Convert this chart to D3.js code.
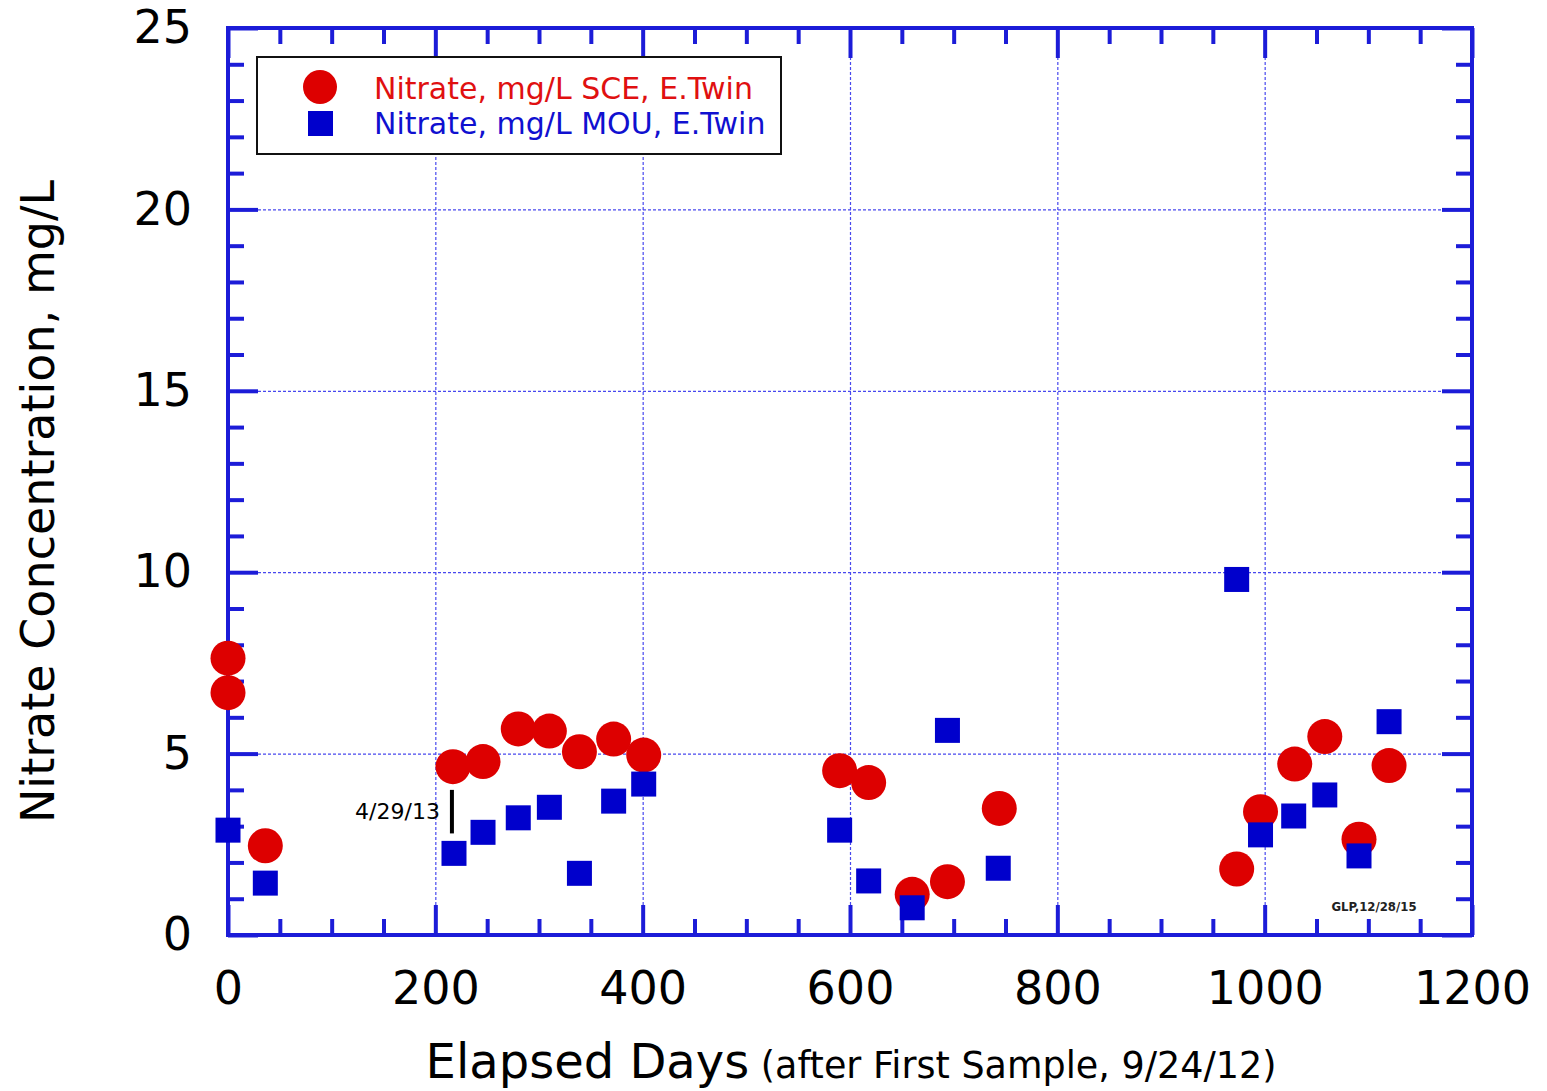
<!DOCTYPE html>
<html>
<head>
<meta charset="utf-8">
<script src="https://cdn.jsdelivr.net/npm/d3@7"></script>
<style>
  body { margin: 0; background: #fff; }
  svg text { font-family: "DejaVu Sans", sans-serif; }
</style>
</head>
<body>
<svg id="chart" width="1547" height="1091"></svg>
<script>
// données
var sceDays = [0, 0, 36, 217, 246, 280, 310, 339, 372, 401, 590, 618, 660, 694, 744, 973, 996, 1029, 1058, 1091, 1120];
var sceVals = [7.63, 6.68, 2.46, 4.64, 4.78, 5.68, 5.62, 5.05, 5.40, 4.96, 4.53, 4.20, 1.12, 1.47, 3.49, 1.82, 3.40, 4.71, 5.47, 2.64, 4.67];
var mouDays = [0, 36, 218, 246, 280, 310, 339, 372, 401, 590, 618, 660, 694, 743, 973, 996, 1028, 1058, 1091, 1120];
var mouVals = [2.89, 1.43, 2.25, 2.83, 3.23, 3.52, 1.70, 3.69, 4.16, 2.89, 1.49, 0.75, 5.64, 1.84, 9.80, 2.76, 3.28, 3.86, 2.18, 5.88];
var xTicks = [0, 200, 400, 600, 800, 1000, 1200];
var yTicks = [0, 5, 10, 15, 20, 25];
var seriesNames = ["Nitrate, mg/L SCE, E.Twin", "Nitrate, mg/L MOU, E.Twin"];
var annotDay = 216, annotRange = [2.8, 4.0], annotLabel = "4/29/13";
var stamp = "GLP,12/28/15";

var red = "#dd0000", blue = "#0000cc", frame = "#1c1cd8";

var svg = d3.select("#chart");
var margin = {top: 28, right: 75, bottom: 156, left: 228};
var W = 1547, H = 1091;
var width = W - margin.left - margin.right, height = H - margin.top - margin.bottom;

var x = d3.scaleLinear().domain([0, 1200]).range([margin.left, margin.left + width]);
var y = d3.scaleLinear().domain([0, 25]).range([margin.top + height, margin.top]);

var xMinor = d3.range(0, 1201, 50).filter(function(d){ return d % 200 != 0; });
var yMinor = d3.range(0, 26, 1).filter(function(d){ return d % 5 != 0; });

// grille en pointillés
svg.append("g")
  .attr("transform", `translate(0, ${margin.top + height})`)
  .call(d3.axisBottom(x).tickValues(xTicks.slice(1, -1)).tickSize(-height).tickFormat(""))
  .call(g => g.select(".domain").remove())
  .selectAll("line").attr("stroke", "#4848ee").attr("stroke-width", 1.2).attr("stroke-dasharray", "3,2");
svg.append("g")
  .attr("transform", `translate(${margin.left}, 0)`)
  .call(d3.axisLeft(y).tickValues(yTicks.slice(1, -1)).tickSize(-width).tickFormat(""))
  .call(g => g.select(".domain").remove())
  .selectAll("line").attr("stroke", "#4848ee").attr("stroke-width", 1.2).attr("stroke-dasharray", "3,2");

// axes : graduations vers l'intérieur sur les quatre côtés
function styleAxis(g){
  g.select(".domain").remove();
  g.selectAll("line").attr("stroke", frame).attr("stroke-width", 4);
  g.selectAll("text").attr("fill", "#000").style("font-size", "46px");
}
var axes = [
  {ax: d3.axisBottom, sc: x, tr: `translate(0, ${margin.top + height})`, maj: xTicks, min: xMinor, lab: true},
  {ax: d3.axisTop, sc: x, tr: `translate(0, ${margin.top})`, maj: xTicks, min: xMinor, lab: false},
  {ax: d3.axisLeft, sc: y, tr: `translate(${margin.left}, 0)`, maj: yTicks, min: yMinor, lab: true},
  {ax: d3.axisRight, sc: y, tr: `translate(${margin.left + width}, 0)`, maj: yTicks, min: yMinor, lab: false}
];
axes.forEach(function(a){
  svg.append("g").attr("transform", a.tr)
    .call(a.ax(a.sc).tickValues(a.min).tickSize(-16).tickFormat(""))
    .call(styleAxis);
  var maj = a.ax(a.sc).tickValues(a.maj).tickSize(-30).tickPadding(36).tickFormat(d3.format("d"));
  if (!a.lab) maj.tickFormat("");
  svg.append("g").attr("transform", a.tr).call(maj).call(styleAxis);
});

// cadre
svg.append("rect")
  .attr("x", margin.left).attr("y", margin.top)
  .attr("width", width).attr("height", height)
  .attr("fill", "none").attr("stroke", frame).attr("stroke-width", 4);

// points SCE (cercles rouges)
svg.append("g").selectAll("circle")
  .data(sceDays.map(function(d, i){ return {day: d, v: sceVals[i]}; }))
  .enter().append("circle")
  .attr("cx", function(d){ return x(d.day); })
  .attr("cy", function(d){ return y(d.v); })
  .attr("r", 17.5)
  .attr("fill", red);

// points MOU (carrés bleus)
var sq = 25;
svg.append("g").selectAll("rect")
  .data(mouDays.map(function(d, i){ return {day: d, v: mouVals[i]}; }))
  .enter().append("rect")
  .attr("x", function(d){ return x(d.day) - sq / 2; })
  .attr("y", function(d){ return y(d.v) - sq / 2; })
  .attr("width", sq).attr("height", sq)
  .attr("fill", blue);

// annotation 4/29/13
svg.append("line")
  .attr("x1", x(annotDay)).attr("x2", x(annotDay))
  .attr("y1", y(annotRange[0])).attr("y2", y(annotRange[1]))
  .attr("stroke", "#000").attr("stroke-width", 4);
svg.append("text")
  .attr("x", x(annotDay) - 12).attr("y", y(d3.mean(annotRange)) + 7)
  .attr("text-anchor", "end")
  .style("font-size", "22px")
  .text(annotLabel);

svg.append("text")
  .attr("x", 1374).attr("y", 911)
  .attr("text-anchor", "middle")
  .style("font-family", "'DejaVu Sans Condensed', 'DejaVu Sans', sans-serif")
  .style("font-size", "13px").style("font-weight", "bold").attr("fill", "#222")
  .text(stamp);

// légende
var leg = svg.append("g");
leg.append("rect")
  .attr("x", 257).attr("y", 57).attr("width", 524).attr("height", 97)
  .attr("fill", "#fff").attr("stroke", "#111").attr("stroke-width", 2);
leg.append("circle").attr("cx", 320).attr("cy", 87).attr("r", 17).attr("fill", red);
leg.append("rect").attr("x", 308).attr("y", 111).attr("width", 25).attr("height", 25).attr("fill", blue);
leg.append("text").attr("x", 374).attr("y", 99).attr("fill", "#e01010").style("font-size", "30px").text(seriesNames[0]);
leg.append("text").attr("x", 374).attr("y", 134).attr("fill", "#1010d0").style("font-size", "30px").text(seriesNames[1]);

// titres des axes
svg.append("text")
  .attr("transform", `translate(54, ${margin.top + height / 2 + 20}) rotate(-90)`)
  .attr("text-anchor", "middle")
  .style("font-size", "46px")
  .text("Nitrate Concentration, mg/L");

var xt = svg.append("text")
  .attr("x", 851).attr("y", 1078)
  .attr("text-anchor", "middle");
xt.append("tspan").style("font-size", "48px").text("Elapsed Days");
xt.append("tspan").style("font-size", "36.5px").text(" (after First Sample, 9/24/12)");
</script>
</body>
</html>
